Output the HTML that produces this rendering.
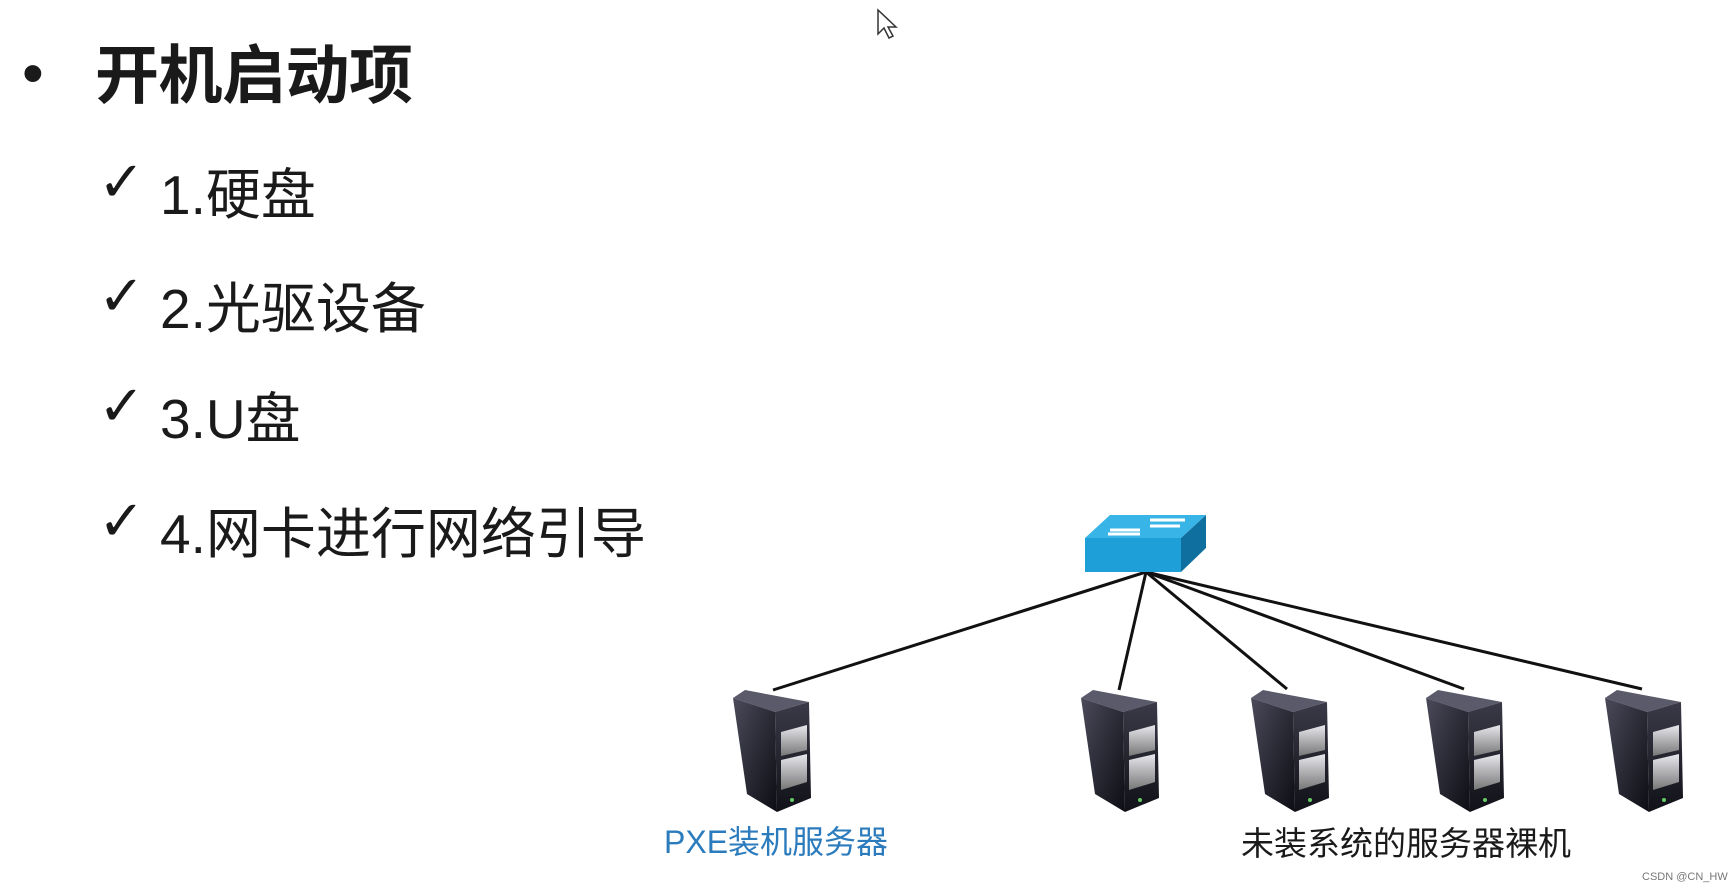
<!DOCTYPE html>
<html><head><meta charset="utf-8"><style>
html,body{margin:0;padding:0;background:#fff;}
body{width:1730px;height:892px;position:relative;overflow:hidden;font-family:"Liberation Sans","Noto Sans CJK SC",sans-serif;color:#1a1a1a;}
.t{position:absolute;white-space:nowrap;}
.ck{position:absolute;font-size:56px;font-weight:bold;font-family:"DejaVu Sans",sans-serif;}
</style></head><body>
<div class="t" style="left:22px;top:38px;font-size:62px;">•</div>
<div class="t" style="left:95px;top:25px;font-size:64px;font-weight:bold;letter-spacing:-0.5px;">开机启动项</div>
<div class="ck" style="left:98px;top:150px;">✓</div>
<div class="ck" style="left:98px;top:264px;">✓</div>
<div class="ck" style="left:98px;top:374px;">✓</div>
<div class="ck" style="left:98px;top:489px;">✓</div>
<div class="t" style="left:160px;top:150px;font-size:55px;">1.硬盘</div>
<div class="t" style="left:160px;top:264px;font-size:55px;">2.光驱设备</div>
<div class="t" style="left:160px;top:374px;font-size:55px;">3.U盘</div>
<div class="t" style="left:160px;top:489px;font-size:55px;">4.网卡进行网络引导</div>
<div class="t" style="left:664px;top:817px;font-size:32px;color:#2b7bbd;">PXE装机服务器</div>
<div class="t" style="left:1241px;top:817px;font-size:33px;color:#1a1a1a;">未装系统的服务器裸机</div>
<div class="t" style="left:1642px;top:871px;font-size:11px;color:#777;">CSDN @CN_HW</div>
<svg width="1730" height="892" style="position:absolute;left:0;top:0">
<defs>
<linearGradient id="side" x1="0" y1="0" x2="1" y2="1"><stop offset="0" stop-color="#4a4a5a"/><stop offset="1" stop-color="#0d0d14"/></linearGradient>
<linearGradient id="front" x1="0" y1="0" x2="0" y2="1"><stop offset="0" stop-color="#3a3a48"/><stop offset="1" stop-color="#111118"/></linearGradient>
<linearGradient id="drv" x1="0" y1="0" x2="0" y2="1"><stop offset="0" stop-color="#e8e8ee"/><stop offset="1" stop-color="#777"/></linearGradient>
<g id="srv">
<polygon points="2,8 14,0 78,12 44,22" fill="#5a5a6a"/>
<polygon points="2,8 44,22 46,122 16,104" fill="url(#side)"/>
<polygon points="44,22 78,12 80,108 46,122" fill="url(#front)"/>
<polygon points="50,42 76,35 76,60 50,66" fill="url(#drv)"/>
<polygon points="50,70 76,64 76,92 50,100" fill="url(#drv)"/>
<circle cx="61" cy="110" r="2" fill="#6c6"/>
</g>
</defs>
<g stroke="#111" stroke-width="3">
<line x1="1146" y1="572" x2="773" y2="690"/>
<line x1="1146" y1="572" x2="1119" y2="690"/>
<line x1="1146" y1="572" x2="1287" y2="689"/>
<line x1="1146" y1="572" x2="1464" y2="689"/>
<line x1="1146" y1="572" x2="1642" y2="689"/>
</g>
<polygon points="1085,538 1110,515 1206,515 1181,538" fill="#39b4e6"/>
<polygon points="1085,538 1181,538 1181,572 1085,572" fill="#1e9fd8"/>
<polygon points="1181,538 1206,515 1206,548 1181,572" fill="#0f6f9e"/>
<g stroke="#fff" stroke-width="3" fill="none">
<line x1="1110" y1="530" x2="1140" y2="530"/><line x1="1150" y1="520" x2="1185" y2="520"/>
<line x1="1108" y1="534" x2="1140" y2="534"/><line x1="1150" y1="526" x2="1180" y2="526"/>
</g>
<use href="#srv" x="731" y="690"/>
<use href="#srv" x="1079" y="690"/>
<use href="#srv" x="1249" y="690"/>
<use href="#srv" x="1424" y="690"/>
<use href="#srv" x="1603" y="690"/>
<polygon points="878,10 878,34 884,28 889,38 893,36 888,27 896,27" fill="#fff" stroke="#333" stroke-width="1.5"/>
</svg>
</body></html>
